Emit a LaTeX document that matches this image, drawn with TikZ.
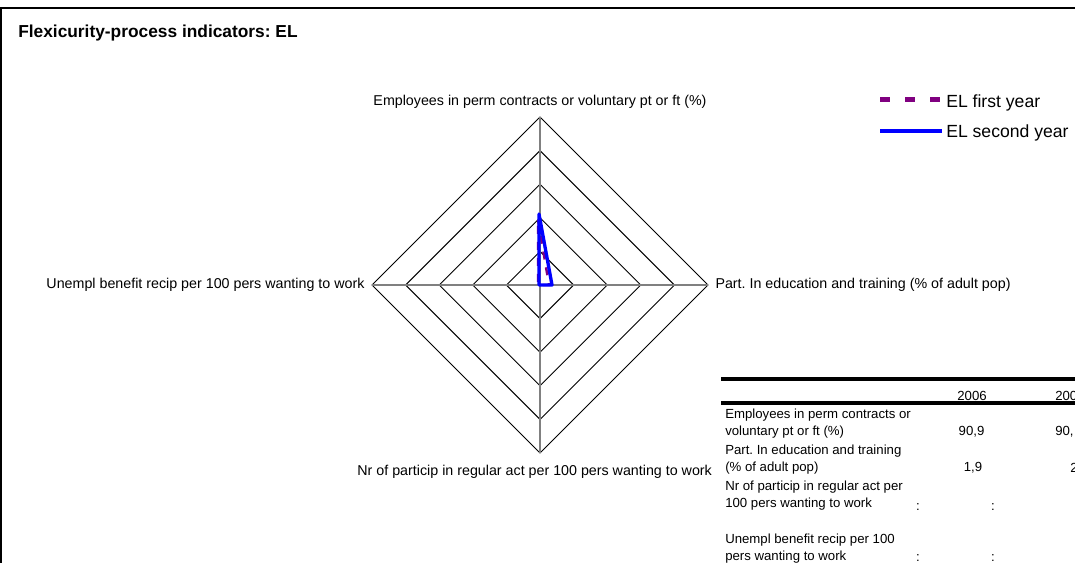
\documentclass[tikz,border=0pt]{standalone}
\usepackage{fontspec}
\setmainfont{Liberation Sans}
\usetikzlibrary{positioning}
\frenchspacing

\definecolor{elpurple}{RGB}{128,0,128}
\definecolor{elblue}{RGB}{0,0,255}

\begin{document}
\begin{tikzpicture}[x=0.75pt, y=-0.75pt,
    corner/.style = {inner sep=0pt, minimum size=0pt},
    ring/.style = {line width=0.7pt},
    spoke/.style = {gray, line width=0.8pt},
    axislabel/.style = {font=\fontsize{10.7}{12}\selectfont, inner sep=0pt},
    firstyear/.style = {elpurple, dash pattern=on 6pt off 6pt, line width=1.8pt},
    secondyear/.style = {elblue, line width=2.5pt, line join=round},
    legendtext/.style = {font=\fontsize{13.2}{15}\selectfont, anchor=west, inner sep=0pt},
    cell/.style = {font=\fontsize{9.9}{12.75}\selectfont, inner sep=0pt},
    rowlabel/.style = {cell, anchor=west, align=left},
    rule/.style = {line width=2.3pt}]

   \useasboundingbox (0,0) rectangle (1075,562);
   \clip (0,0) rectangle (1075,562);

   % frame and title
   \draw[line width=1.5pt] (1,8) rectangle (1100,600);
   \node[anchor=west, inner sep=0pt, font=\fontsize{13}{15}\selectfont\bfseries] (title) at (18,33) {Flexicurity-process indicators: EL};

   % radar axes
   \coordinate (O) at (540,285);
   \node[corner] (T) [label={[axislabel, label distance=6pt]90:Employees in perm contracts or voluntary pt or ft (\%)}] at (540,117) {};
   \node[corner] (R) [label={[axislabel, label distance=5.25pt]0:Part. In education and training (\% of adult pop)}] at (708,285) {};
   \node[corner] (B) [label={[axislabel, label distance=9pt, xshift=-4pt]-90:Nr of particip in regular act per 100 pers wanting to work}] at (540,453) {};
   \node[corner] (L) [label={[axislabel, label distance=5.25pt]180:Unempl benefit recip per 100 pers wanting to work}] at (372,285) {};

   \foreach \r in {1,...,5}
      \draw[ring, shift={(O)}] (0,-\r*33.6) -- (\r*33.6,0) -- (0,\r*33.6) -- (-\r*33.6,0) -- cycle;
   \foreach \v in {T,R,B,L}
      \draw[spoke] (O) -- (\v);

   % data
   \draw[firstyear] (538,220) -- (549,285) -- (538,285) -- cycle;
   \draw[secondyear] (539,214) -- (552,285) -- (539,285) -- cycle;

   % legend
   \coordinate (k1) at (880,99);
   \coordinate (k2) at (880,131);
   \node[legendtext] (leg1) at (946,103.4) {EL first year};
   \node[legendtext] (leg2) at (946,133) {EL second year};
   \draw[elpurple, line width=3.75pt, dash pattern=on 7.5pt off 11.25pt] (k1) -- (942,99);
   \draw[elblue, line width=2.8pt] (k2) -- (942,131);

   % table
   \draw[rule] (721,379) -- (1090,379);
   \draw[rule] (721,403) -- (1090,403);
   \node[cell] (h1) at (972,396) {2006};
   \node[cell, anchor=west] (h2) at (1055,396) {200};

   \node[rowlabel] (r1) at (725,423.3) {Employees in perm contracts or\\voluntary pt or ft (\%)};
   \node[rowlabel] (r2) at (725,459.3) {Part. In education and training\\(\% of adult pop)};
   \node[rowlabel] (r3) at (725,495.3) {Nr of particip in regular act per\\100 pers wanting to work};
   \node[rowlabel] (r4) at (725,548.3) {Unempl benefit recip per 100\\pers wanting to work};

   \node[cell] (v1a) at (971.5,431.7) {90,9};
   \node[cell, anchor=west] (v1b) at (1055,431.7) {90,};
   \node[cell] (v2a) at (973,468) {1,9};
   \node[cell, anchor=west] (v2b) at (1070,468) {2};
   \node[cell] (v3n) at (918,506.7) {:};
   \node[cell] (v3a) at (993,506.7) {:};
   \node[cell] (v4n) at (918,558) {:};
   \node[cell] (v4a) at (993,558) {:};
\end{tikzpicture}
\end{document}
